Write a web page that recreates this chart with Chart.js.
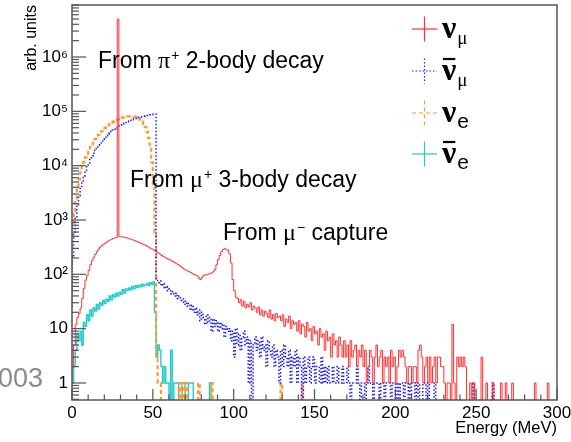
<!DOCTYPE html>
<html>
<head>
<meta charset="utf-8">
<script src="https://cdn.jsdelivr.net/npm/chart.js@4/dist/chart.umd.min.js"></script>
<style>
html,body{margin:0;padding:0;background:#fff;}
#wrap{width:571px;height:442px;position:relative;}
</style>
</head>
<body>
<div id="wrap"><canvas id="c" width="571" height="442"></canvas></div>
<script>
// ---------------- data (1 MeV bins, lower edge 0 .. 299) ----------------
const BIN_LOW = 0;
const BIN_WIDTH = 1;

const seriesLabels = ['numu', 'numubar', 'nue', 'nuebar'];

const numu = [
  1, 2, 5, 12, 16, 19, 24, 36, 55, 78,
  95, 118, 150, 178, 205, 232, 262, 290, 318, 335,
  355, 372, 392, 408, 425, 440, 455, 468, 478, 5000000,
  495, 490, 488, 480, 472, 462, 452, 442, 432, 422,
  408, 398, 386, 376, 362, 352, 340, 330, 318, 304,
  292, 282, 268, 258, 246, 236, 222, 214, 206, 198,
  190, 185, 178, 172, 166, 160, 152, 146, 138, 131,
  125, 120, 116, 112, 108, 104, 100, 97, 94, 86,
  80, 88, 95, 98, 97, 101, 104, 106, 112, 123,
  150, 186, 222, 260, 284, 296, 290, 278, 238, 162,
  80, 50, 38, 36, 30, 34, 26, 32, 24, 28,
  25, 30, 22, 26, 24, 20, 25, 18, 22, 17,
  21, 19, 16, 22, 15, 18, 14, 19, 16, 17,
  14, 18, 11, 15, 13, 17, 10, 14, 12, 13,
  9, 14, 8, 12, 11, 7, 13, 9, 10, 6,
  11, 8, 9, 5, 10, 7, 8, 4, 9, 6,
  7, 3, 8, 5, 6, 3, 7, 5, 3, 6,
  3, 5, 2, 6, 3, 4, 5, 2, 4, 3,
  5, 2, 4, 1, 2, 4, 3, 1, 3, 5,
  2, 3, 4, 1, 3, 2, 3, 1, 4, 2,
  3, 1, 2, 4, 3, 4, 3, 2, 1, 2,
  2, 1, 2, 2, 1, 4, 5, 3, 1, 2,
  3, 1, 3, 1, 2, 3, 1, 3, 3, 2,
  2, 1, 0, 1, 1, 0, 12, 1, 0, 3,
  2, 3, 2, 3, 2, 0, 0, 1, 0, 1,
  0, 0, 0, 0, 3, 0, 0, 1, 0, 0,
  0, 1, 0, 0, 0, 0, 1, 0, 0, 1,
  0, 0, 0, 1, 0, 0, 0, 0, 0, 0,
  0, 0, 0, 0, 0, 0, 0, 1, 0, 0,
  0, 0, 0, 0, 0, 1, 0, 0, 0, 0
];

const numubar = [
  25, 220, 600, 1150, 1900, 2800, 3800, 5000, 6400, 7900,
  9500, 11200, 13000, 15000, 17000, 19200, 21400, 23700, 26000, 28300,
  30700, 33100, 35500, 38000, 40400, 42800, 45200, 47500, 49800, 52000,
  54200, 56400, 58500, 60600, 62600, 64600, 66500, 68400, 70200, 72000,
  73700, 75300, 76900, 78400, 79800, 81200, 82500, 83800, 85000, 86200,
  87300, 88400, 89400, 80, 70, 75, 62, 68, 55, 60,
  50, 54, 44, 48, 40, 45, 36, 40, 33, 35,
  28, 32, 26, 29, 22, 27, 20, 24, 18, 22,
  14, 20, 16, 12, 18, 13, 16, 9, 15, 11,
  14, 9, 13, 10, 12, 7, 11, 9, 10, 6,
  9, 3, 10, 5, 8, 4, 7, 9, 5, 7,
  1, 6, 0, 5, 7, 4, 6, 3, 7, 4,
  5, 2, 6, 4, 3, 5, 2, 4, 3, 1,
  4, 2, 5, 3, 2, 4, 1, 3, 2, 4,
  1, 3, 2, 0, 3, 1, 2, 3, 1, 2,
  3, 1, 2, 2, 1, 3, 1, 2, 1, 2,
  1, 1, 2, 1, 1, 2, 1, 1, 2, 1,
  1, 2, 1, 0, 1, 1, 1, 2, 1, 0,
  1, 1, 0, 1, 2, 1, 1, 0, 1, 1,
  1, 0, 1, 1, 0, 1, 1, 1, 0, 1,
  1, 0, 1, 0, 1, 1, 0, 1, 1, 0,
  1, 0, 0, 1, 0, 1, 0, 0, 1, 1,
  0, 1, 0, 0, 0, 1, 0, 0, 0, 0,
  0, 0, 0, 0, 0, 0, 0, 0, 0, 0,
  0, 0, 0, 0, 0, 0, 0, 0, 0, 1,
  0, 0, 0, 0, 0, 0, 0, 0, 0, 0,
  0, 1, 0, 0, 0, 0, 0, 0, 0, 0,
  0, 0, 0, 0, 0, 0, 0, 0, 0, 0,
  0, 0, 0, 0, 0, 0, 0, 0, 0, 0,
  0, 0, 0, 0, 0, 0, 0, 0, 0, 0
];

const nue = [
  150, 800, 1300, 2500, 3900, 5600, 7500, 9600, 11800, 14200,
  16700, 19300, 22000, 24800, 27800, 31000, 34000, 37000, 40000, 43000,
  46000, 49000, 52000, 55000, 58000, 61000, 64000, 66500, 69000, 71500,
  73500, 75500, 77000, 78500, 79500, 80300, 80800, 81000, 80800, 80000,
  78500, 76500, 73800, 70000, 65000, 58500, 51000, 42000, 32000, 21500,
  11500, 4000, 600, 3, 1, 1, 0, 0, 0, 0,
  0, 0, 0, 0, 0, 0, 0, 1, 0, 1,
  0, 1, 0, 0, 0, 0, 0, 0, 0, 1,
  0, 0, 0, 0, 0, 0, 0, 1, 0, 0,
  0, 0, 0, 0, 0, 0, 0, 0, 0, 0,
  0, 0, 0, 0, 0, 0, 0, 0, 0, 0,
  0, 0, 0, 0, 0, 0, 0, 0, 0, 0,
  0, 0, 0, 0, 0, 0, 0, 0, 0, 0,
  1, 0, 0, 0, 0, 0, 0, 0, 0, 0,
  0, 0, 0, 1, 0, 0, 0, 0, 0, 0,
  0, 0, 0, 0, 0, 0, 0, 0, 0, 0,
  0, 0, 0, 0, 0, 0, 0, 0, 0, 0,
  0, 0, 0, 0, 0, 0, 0, 0, 0, 0,
  0, 0, 0, 0, 0, 0, 0, 0, 0, 0,
  0, 0, 0, 0, 0, 0, 0, 0, 0, 0,
  0, 0, 0, 0, 0, 0, 0, 0, 0, 0,
  0, 0, 0, 0, 0, 0, 0, 0, 0, 0,
  0, 0, 0, 0, 0, 0, 0, 0, 0, 0,
  0, 0, 0, 0, 0, 0, 0, 0, 0, 0,
  0, 0, 0, 0, 0, 0, 0, 0, 0, 0,
  0, 0, 0, 0, 0, 0, 0, 0, 0, 0,
  0, 0, 0, 0, 0, 0, 0, 0, 0, 0,
  0, 0, 0, 0, 0, 0, 0, 0, 0, 0,
  0, 0, 0, 0, 0, 0, 0, 0, 0, 0,
  0, 0, 0, 0, 0, 0, 0, 0, 0, 0
];

const nuebar = [
  1, 1, 2, 4, 8, 6, 9, 5, 13, 11,
  18, 14, 22, 17, 24, 21, 28, 23, 30, 27,
  33, 29, 35, 32, 40, 34, 42, 38, 45, 40,
  47, 43, 52, 45, 54, 50, 56, 52, 60, 54,
  62, 57, 63, 59, 66, 61, 64, 68, 62, 70,
  65, 72, 20, 3, 5, 4, 2, 1, 2, 1,
  1, 0, 4, 0, 1, 1, 1, 0, 0, 1,
  1, 0, 0, 1, 1, 1, 0, 0, 0, 0,
  0, 0, 0, 0, 0, 0, 1, 0, 0, 0,
  0, 0, 0, 0, 0, 0, 0, 0, 0, 0,
  0, 0, 0, 0, 0, 0, 0, 0, 0, 0,
  0, 0, 0, 0, 0, 0, 0, 0, 0, 0,
  0, 0, 0, 0, 0, 0, 0, 0, 0, 0,
  0, 0, 0, 0, 0, 0, 0, 0, 0, 0,
  0, 0, 0, 0, 0, 0, 0, 0, 0, 0,
  0, 0, 0, 0, 0, 0, 0, 0, 0, 0,
  0, 0, 0, 0, 0, 0, 0, 0, 0, 0,
  0, 0, 0, 0, 0, 0, 0, 0, 0, 0,
  0, 0, 0, 0, 0, 0, 0, 0, 0, 0,
  0, 0, 0, 0, 0, 0, 0, 0, 0, 0,
  0, 0, 0, 0, 0, 0, 0, 0, 0, 0,
  0, 0, 0, 0, 0, 0, 0, 0, 0, 0,
  0, 0, 0, 0, 0, 0, 0, 0, 0, 0,
  0, 0, 0, 0, 0, 0, 0, 0, 0, 0,
  0, 0, 0, 0, 0, 0, 0, 0, 0, 0,
  0, 0, 0, 0, 0, 0, 0, 0, 0, 0,
  0, 0, 0, 0, 0, 0, 0, 0, 0, 0,
  0, 0, 0, 0, 0, 0, 0, 0, 0, 0,
  0, 0, 0, 0, 0, 0, 0, 0, 0, 0,
  0, 0, 0, 0, 0, 0, 0, 0, 0, 0
];

const X_TICKS = [0, 50, 100, 150, 200, 250, 300];
const X_TICK_LABELS = ['0', '50', '100', '150', '200', '250', '300'];
const Y_TICKS = [1, 10, 100, 1000, 10000, 100000, 1000000];
const Y_TICK_LABELS = ['1', '10', '10²', '10³', '10⁴', '10⁵', '10⁶'];
const X_TITLE = 'Energy (MeV)';
const Y_TITLE = 'arb. units';

// annotations: [prefix, greek letter, superscript, suffix]
const annotations = [
  ['From ', 'π', '+', ' 2-body decay'],
  ['From ', 'μ', '+', ' 3-body decay'],
  ['From ', 'μ', '−', ' capture']
];
// legend: main symbol, subscript, has bar (antiparticle)
const legendMain = ['ν', 'ν', 'ν', 'ν'];
const legendSub = ['μ', 'μ', 'e', 'e'];
const legendBar = [false, true, false, true];
const sideNote = '003';

// ---------------- styling ----------------
const SANS = "'Liberation Sans', Arial, Helvetica, sans-serif";
const SERIF = "'Liberation Serif', 'Times New Roman', serif";
const COLORS = ['#ff3030', '#1a1aff', '#ff9a33', '#22cccc'];
const DASHES = [[], [1.5, 2], [4, 3], []];
const WIDTHS = [1.0, 1.5, 2.2, 1.4];
const FLOOR = 1e-3; // empty bins drawn below the frame

function histPoints(vals) {
  const pts = vals.map((v, i) => ({ x: BIN_LOW + i * BIN_WIDTH, y: v > 0 ? v : FLOOR }));
  pts.push({ x: BIN_LOW + vals.length * BIN_WIDTH, y: pts[pts.length - 1].y });
  return pts;
}

const allSeries = [numu, numubar, nue, nuebar];

const datasets = allSeries.map((vals, i) => ({
  label: seriesLabels[i],
  data: histPoints(vals),
  borderColor: COLORS[i],
  borderWidth: WIDTHS[i],
  borderDash: DASHES[i],
  stepped: 'after',
  pointRadius: 0,
  fill: false,
  tension: 0,
  order: i
}));

function line(ctx, x1, y1, x2, y2) {
  ctx.beginPath(); ctx.moveTo(x1, y1); ctx.lineTo(x2, y2); ctx.stroke();
}

const decor = {
  id: 'decor',
  afterDatasetsDraw(chart) {
    const { ctx, chartArea: a, scales: { x, y } } = chart;
    ctx.save();
    ctx.strokeStyle = '#555';
    ctx.lineWidth = 1.5;
    ctx.setLineDash([]);
    ctx.strokeRect(a.left, a.top, a.right - a.left, a.bottom - a.top);
    // x ticks (inside)
    ctx.lineWidth = 1.2;
    for (let v = 0; v <= 300; v += 10) {
      const px = x.getPixelForValue(v);
      line(ctx, px, a.bottom, px, a.bottom - (v % 50 === 0 ? 11 : 5.5));
    }
    // y ticks (inside)
    for (let e = -1; e <= 6; e++) {
      for (let m = 1; m <= 9; m++) {
        const v = m * Math.pow(10, e);
        if (v < y.min || v > y.max) continue;
        const py = y.getPixelForValue(v);
        line(ctx, a.left, py, a.left + (m === 1 ? 14 : 7), py);
      }
    }
    ctx.restore();
  },
  afterDraw(chart) {
    const { ctx } = chart;
    ctx.save();
    ctx.fillStyle = '#000';
    ctx.textBaseline = 'alphabetic';
    ctx.textAlign = 'left';
    // annotations
    const pos = [[98, 68], [130, 187], [223, 240]];
    annotations.forEach((parts, k) => {
      let [px, py] = pos[k];
      ctx.font = '23px ' + SANS; ctx.fillText(parts[0], px, py); px += ctx.measureText(parts[0]).width;
      ctx.font = '24px ' + SERIF; ctx.fillText(parts[1], px, py); px += ctx.measureText(parts[1]).width + 1;
      ctx.font = '14px ' + SANS; ctx.fillText(parts[2], px, py - 8); px += ctx.measureText(parts[2]).width;
      ctx.font = '23px ' + SANS; ctx.fillText(parts[3], px, py);
    });
    // legend
    const cys = [29, 71, 113, 154];
    cys.forEach((cy, i) => {
      ctx.strokeStyle = COLORS[i];
      ctx.lineWidth = 1.2;
      ctx.setLineDash(DASHES[i]);
      line(ctx, 412, cy, 437, cy);
      line(ctx, 424.5, cy - 12.5, 424.5, cy + 12.5);
      ctx.setLineDash([]);
      const bx = 442, by = cy + 9;
      ctx.fillStyle = '#000';
      ctx.font = 'bold 32px ' + SERIF;
      ctx.fillText(legendMain[i], bx, by);
      const w = ctx.measureText(legendMain[i]).width;
      if (legendBar[i]) {
        ctx.strokeStyle = '#000'; ctx.lineWidth = 2.2;
        line(ctx, bx + 1, cy - 12, bx + w - 1, cy - 12);
      }
      if (legendSub[i] === 'μ') { ctx.font = '19px ' + SERIF; }
      else { ctx.font = '21px ' + SANS; }
      ctx.fillText(legendSub[i], bx + w + 1, by + 6);
    });
    // side note
    ctx.fillStyle = '#8a8a8a';
    ctx.font = '27px ' + SANS;
    ctx.textAlign = 'right';
    ctx.fillText(sideNote, 43, 387);
    ctx.restore();
  }
};

new Chart(document.getElementById('c'), {
  type: 'line',
  data: { datasets },
  options: {
    responsive: false,
    animation: false,
    devicePixelRatio: 1,
    layout: { padding: { top: 5, right: 14, left: 0, bottom: 0 } },
    plugins: { legend: { display: false }, tooltip: { enabled: false } },
    scales: {
      x: {
        type: 'linear', min: 0, max: 300,
        afterBuildTicks: (s) => { s.ticks = X_TICKS.map(v => ({ value: v })); },
        afterFit: (s) => { s.height = 42; s.paddingLeft = 0; s.paddingRight = 0; },
        grid: { drawOnChartArea: false, drawTicks: false },
        border: { display: false },
        ticks: {
          autoSkip: false, maxRotation: 0, padding: 3, color: '#000',
          font: { family: SANS, size: 17 },
          callback: (v, i) => X_TICK_LABELS[i]
        },
        title: {
          display: true, text: X_TITLE, align: 'end', color: '#000',
          font: { family: SANS, size: 16.5 }, padding: { top: 0, bottom: 4 }
        }
      },
      y: {
        type: 'logarithmic', min: 0.486, max: 9.06e6,
        afterBuildTicks: (s) => { s.ticks = Y_TICKS.map(v => ({ value: v })); },
        afterFit: (s) => { s.width = 72; s.paddingTop = 0; s.paddingBottom = 0; },
        grid: { drawOnChartArea: false, drawTicks: false },
        border: { display: false },
        ticks: {
          autoSkip: false, padding: 4, color: '#000',
          font: { family: SANS, size: 17 },
          callback: (v, i) => Y_TICK_LABELS[i]
        },
        title: {
          display: true, text: Y_TITLE, align: 'end', color: '#000',
          font: { family: SANS, size: 16 }, padding: { top: 22, bottom: 0 }
        }
      }
    }
  },
  plugins: [decor]
});
</script>
</body>
</html>
